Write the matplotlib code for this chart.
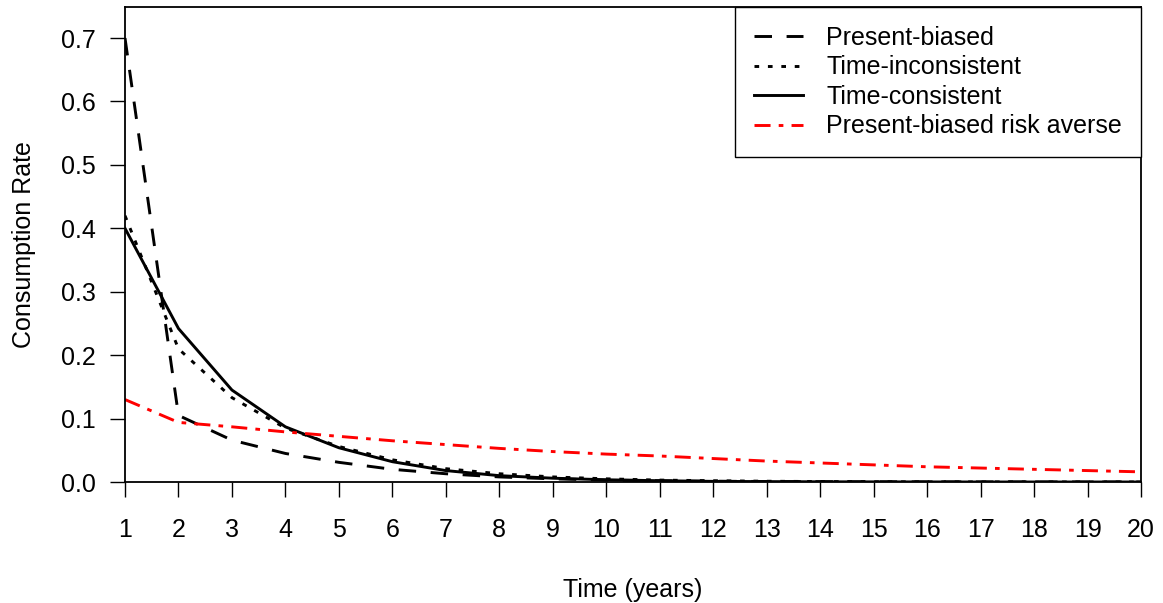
import matplotlib
matplotlib.use("Agg")
import matplotlib.pyplot as plt
from matplotlib import font_manager

# Values
years = list(range(1, 21))
present_biased = [0.70, 0.105, 0.066, 0.045, 0.031, 0.020, 0.013, 0.008, 0.005, 0.003,
                  0.002, 0.0012, 0.0008, 0.0005, 0.0003, 0.0002, 0.0001, 0.0001, 0.0, 0.0]
time_inconsistent = [0.42, 0.21, 0.133, 0.085, 0.056, 0.035, 0.021, 0.013, 0.008, 0.005,
                     0.003, 0.002, 0.0012, 0.0007, 0.0004, 0.0002, 0.0001, 0.0001, 0.0, 0.0]
time_consistent = [0.40, 0.242, 0.145, 0.087, 0.054, 0.032, 0.018, 0.010, 0.006, 0.0035,
                   0.002, 0.001, 0.0006, 0.0003, 0.0002, 0.0001, 0.0, 0.0, 0.0, 0.0]
risk_averse = [0.130, 0.094, 0.087, 0.079, 0.072, 0.065, 0.059, 0.053, 0.048, 0.044,
               0.041, 0.037, 0.033, 0.030, 0.027, 0.024, 0.022, 0.020, 0.018, 0.016]

yticks = [0.0, 0.1, 0.2, 0.3, 0.4, 0.5, 0.6, 0.7]

installed = {f.name for f in font_manager.fontManager.ttflist}
base_font = "Liberation Sans" if "Liberation Sans" in installed else "DejaVu Sans"
plt.rcParams["font.family"] = [base_font, "DejaVu Sans"]
fs = 18

fig = plt.figure(figsize=(11.63, 6.03), dpi=100)
ax = fig.add_axes([125 / 1163, 1 - 482 / 603, 1016 / 1163, 475 / 603])

ax.plot(years, present_biased, color="black", lw=2.1, dashes=(6, 5), label="Present-biased")
ax.plot(years, time_inconsistent, color="black", lw=2.1, dashes=(1.6, 3), label="Time-inconsistent")
ax.plot(years, time_consistent, color="black", lw=2.1, label="Time-consistent")
ax.plot(years, risk_averse, color="red", lw=2.1, dashes=(5.5, 2.8, 1.6, 2.8),
        label="Present-biased risk averse")

ax.set_xlim(1, 20)
ax.set_ylim(0, 0.749)
ax.set_xticks(years)
ax.set_xticklabels([str(y) for y in years], fontsize=fs)
ax.set_yticks(yticks)
ax.set_yticklabels([f"{v:.1f}" for v in yticks], fontsize=fs)
ax.tick_params(axis="both", direction="out", length=11, width=1, color="black")
ax.tick_params(axis="x", pad=15)
ax.tick_params(axis="y", pad=10)

for s in ax.spines.values():
    s.set_linewidth(1.3)
    s.set_color("black")

ax.set_xlabel("Time (years)", fontsize=fs, labelpad=26)
ax.set_ylabel("Consumption Rate", fontsize=fs, labelpad=18)

leg = ax.legend(loc="upper right", bbox_to_anchor=(1, 1), borderaxespad=0,
                fontsize=fs, fancybox=False, framealpha=1, edgecolor="black",
                handlelength=1.95, handletextpad=0.95, labelspacing=0.22,
                borderpad=0.75)
leg.get_frame().set_linewidth(1.0)

fig.savefig("out.png", dpi=100)
